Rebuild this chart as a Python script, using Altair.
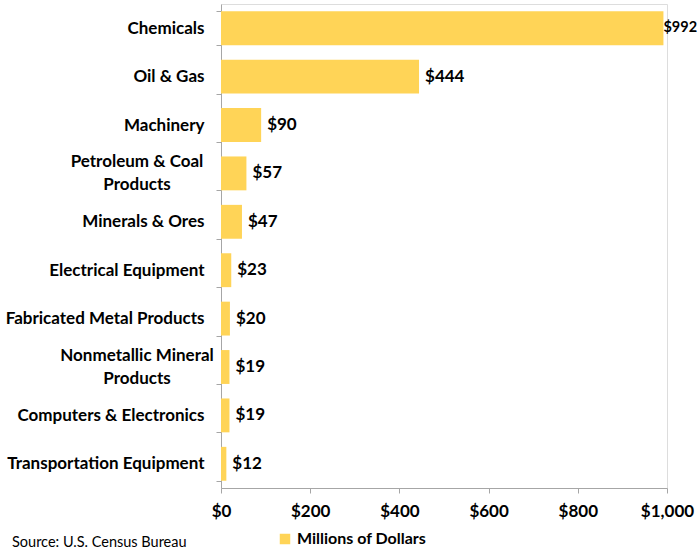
import altair as alt
import pandas as pd

categories = ["Chemicals", "Oil & Gas", "Machinery", "Petroleum & Coal Products",
              "Minerals & Ores", "Electrical Equipment", "Fabricated Metal Products",
              "Nonmetallic Mineral Products", "Computers & Electronics",
              "Transportation Equipment"]
values = [992, 444, 90, 57, 47, 23, 20, 19, 19, 12]
wrapped = {"Petroleum & Coal Products": "Petroleum & Coal\nProducts",
           "Nonmetallic Mineral Products": "Nonmetallic Mineral\nProducts"}
x_ticks = [0, 200, 400, 600, 800, 1000]
series_name = "Millions of Dollars"
source_text = "Source: U.S. Census Bureau"

df = pd.DataFrame({"category": categories, "value": values})
df["series"] = series_name
df["label"] = ["$" + format(v, ",") for v in values]
df["wrapped"] = [wrapped.get(c, "") for c in categories]

FONT = "Lato"
FS = 17
YELLOW = "#FFD457"
GRAY = "#A6A6A6"

hide_expr = " || ".join(f"datum.label == '{k}'" for k in wrapped)
label_expr = f"({hide_expr}) ? '' : datum.label"

y_enc = alt.Y("category:N", sort=categories,
              scale=alt.Scale(paddingInner=0.3, paddingOuter=0.15),
              axis=alt.Axis(title=None, tickBand="extent", tickSize=5,
                            labelPadding=12, labelExpr=label_expr,
                            labelFont=FONT, labelFontSize=FS, labelFontWeight="bold",
                            labelColor="black", domainColor=GRAY, tickColor=GRAY,
                            labelLimit=300))

x_enc = alt.X("value:Q", scale=alt.Scale(domain=[0, 1000]),
              axis=alt.Axis(title=None, values=x_ticks, format="$,.0f", grid=False,
                            tickSize=5, labelPadding=10, labelFont=FONT,
                            labelFontSize=FS, labelFontWeight="bold",
                            labelColor="black", domainColor=GRAY, tickColor=GRAY,
                            labelFlush=False))

base = alt.Chart(df)

bars = base.mark_bar().encode(
    x=x_enc, y=y_enc,
    color=alt.Color("series:N", scale=alt.Scale(range=[YELLOW]),
                    legend=alt.Legend(title=None, orient="none", legendX=56, legendY=527,
                                      symbolType="square", symbolSize=110,
                                      symbolStrokeWidth=0, padding=0,
                                      labelFont=FONT, labelFontSize=16,
                                      labelFontWeight="bold", labelColor="black")))

vals = base.mark_text(align="left", baseline="middle", dx=6, font=FONT,
                      fontSize=FS, fontWeight="bold", color="black").encode(
    x="value:Q", y=alt.Y("category:N", sort=categories), text="label:N"
).transform_filter("datum.value < 900")

vals_big = base.mark_text(align="left", baseline="middle", dx=0, font=FONT,
                          fontSize=14.5, fontWeight="bold", color="black").encode(
    x="value:Q", y=alt.Y("category:N", sort=categories), text="label:N"
).transform_filter("datum.value >= 900")

wrapped_labels = base.mark_text(align="center", baseline="middle", lineBreak="\n",
                                lineHeight=23, dy=-11.5, font=FONT, fontSize=FS,
                                fontWeight="bold", color="black").encode(
    x=alt.value(-84), y=alt.Y("category:N", sort=categories), text="wrapped:N"
).transform_filter("datum.wrapped != ''")

src = alt.Chart(pd.DataFrame({"t": [source_text]})).mark_text(
    align="left", baseline="middle", font=FONT, fontSize=14.5, color="black"
).encode(x=alt.value(-209), y=alt.value(539), text="t:N")

chart = alt.layer(bars, vals, vals_big, wrapped_labels, src).properties(
    width=446, height=484,
    autosize=alt.AutoSizeParams(type="none"),
    padding={"left": 221, "top": 4, "right": 32, "bottom": 62},
).configure_view(stroke=None).configure(background="white")

chart.save("out.html", embed_options={"renderer": "svg", "actions": False})
